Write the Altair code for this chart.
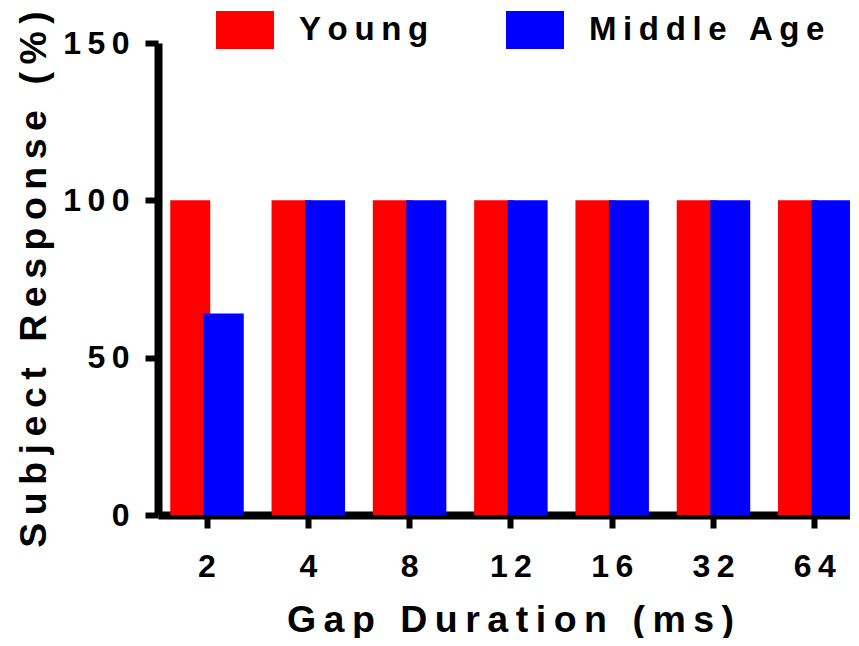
import altair as alt
import pandas as pd

gaps = ["2", "4", "8", "12", "16", "32", "64"]
young = [100, 100, 100, 100, 100, 100, 100]
middle = [64, 100, 100, 100, 100, 100, 100]
groups = ["Young", "Middle Age"]
colors = ["#FF0000", "#0000FF"]
y_ticks = [0, 50, 100, 150]

rows = []
for g, v in zip(gaps, young):
    rows.append({"gap": g, "group": groups[0], "value": v})
for g, v in zip(gaps, middle):
    rows.append({"gap": g, "group": groups[1], "value": v})
df = pd.DataFrame(rows)

TS = "\u2009"


def spaced(s):
    out = []
    for ch in s:
        out.append("  " if ch == " " else ch)
    return TS.join(out)


FONT = "Liberation Sans"
spread_expr = "join(split(datum.label, ''), '\u2009')"
rect_path = "M-1,-0.655L1,-0.655L1,0.655L-1,0.655Z"

chart = (
    alt.Chart(df)
    .mark_bar(width=40)
    .encode(
        x=alt.X(
            "gap:N",
            sort=gaps,
            scale=alt.Scale(paddingInner=0.3385, paddingOuter=0.085, align=0.9),
            axis=alt.Axis(
                title=spaced("Gap Duration (ms)"),
                labelAngle=0,
                labelExpr=spread_expr,
                labelPadding=23,
                tickSize=13,
                tickWidth=6,
                titleX=352,
                titleY=116,
                titleBaseline="alphabetic",
                titleAlign="center",
            ),
        ),
        xOffset=alt.XOffset(
            "group:N", sort=groups, scale=alt.Scale(paddingInner=0, paddingOuter=0)
        ),
        y=alt.Y(
            "value:Q",
            scale=alt.Scale(domain=[0, 150], nice=False),
            axis=alt.Axis(
                title=spaced("Subject Response (%)"),
                values=y_ticks,
                labelExpr=spread_expr,
                labelPadding=16,
                tickSize=13,
                tickWidth=6,
                grid=False,
                titleX=-113,
                titleY=236,
                titleBaseline="alphabetic",
                titleAlign="center",
                titleAngle=270,
            ),
        ),
        color=alt.Color(
            "group:N",
            sort=groups,
            scale=alt.Scale(domain=groups, range=colors),
            legend=alt.Legend(
                orient="none",
                legendX=58,
                legendY=-42,
                direction="horizontal",
                title=None,
                symbolType=rect_path,
                symbolSize=3364,
                symbolStrokeWidth=0,
                symbolOpacity=1,
                labelFontSize=33,
                labelFont=FONT,
                labelFontWeight="bold",
                labelColor="black",
                labelOffset=25,
                labelLimit=500,
                columnPadding=77,
                padding=0,
                labelExpr=spread_expr,
            ),
        ),
    )
    .properties(
        width=692,
        height=472,
        autosize=alt.AutoSizeParams(type="none"),
        padding={"left": 150, "top": 35, "right": 0, "bottom": 123},
    )
    .configure_view(stroke=None)
    .configure_axis(
        domainColor="black",
        domainWidth=8,
        tickColor="black",
        labelColor="black",
        titleColor="black",
        labelFont=FONT,
        titleFont=FONT,
        labelFontSize=32,
        titleFontSize=37.5,
        labelFontWeight="bold",
        titleFontWeight="bold",
    )
)

chart.save("out.html", embed_options={"renderer": "svg", "actions": False})
